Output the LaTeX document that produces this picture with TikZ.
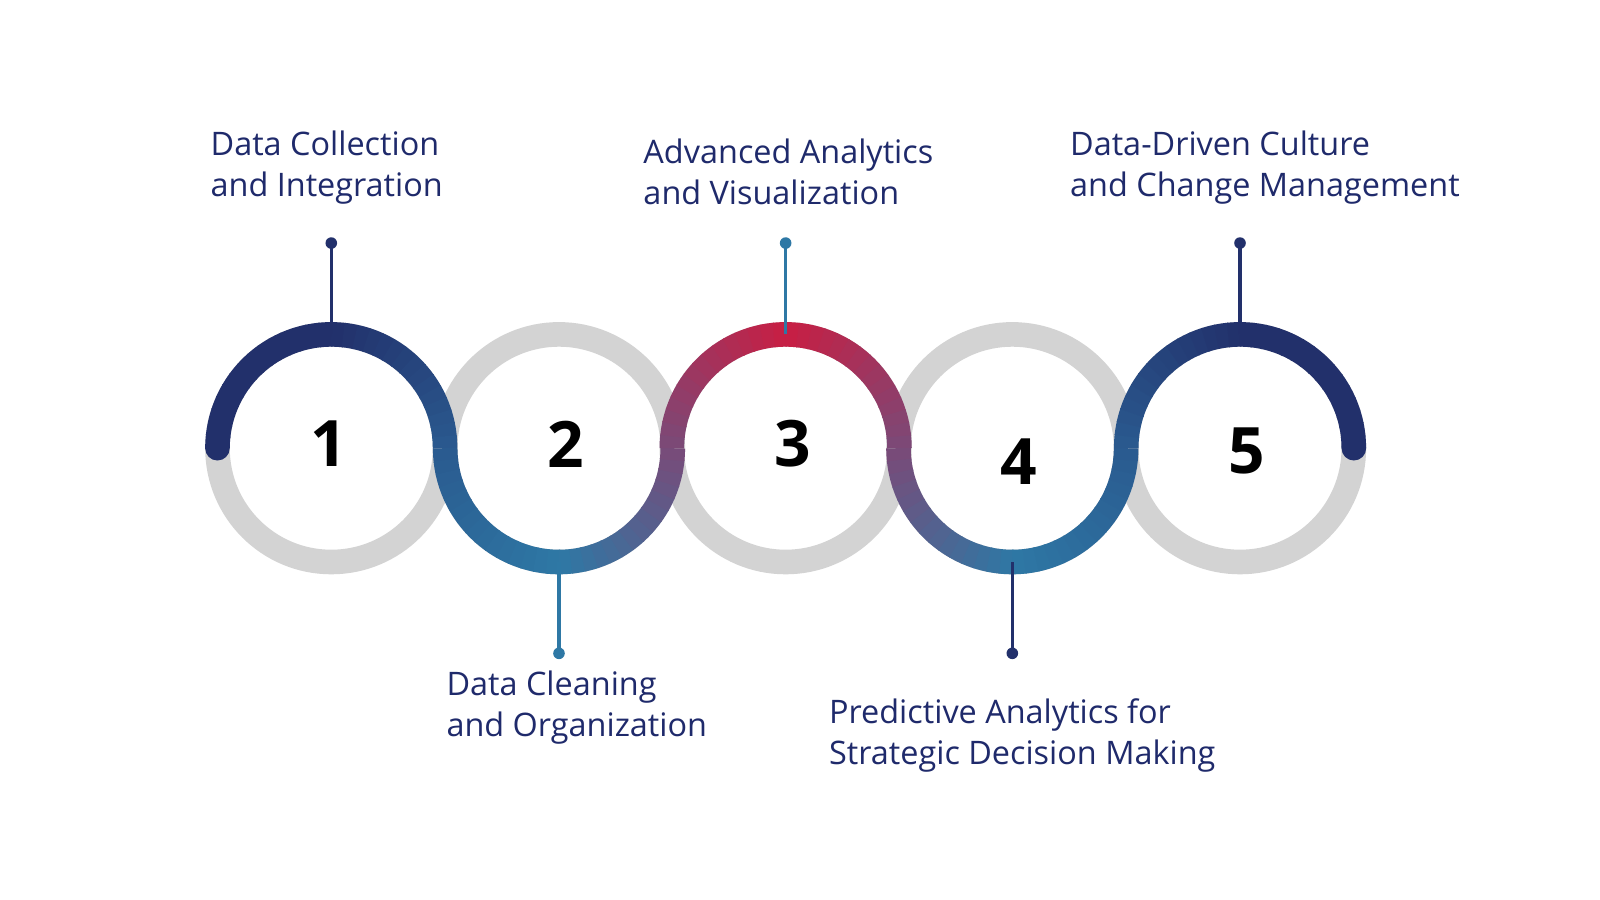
\documentclass[tikz,border=0pt]{standalone}
\usepackage{fontspec}
\setmainfont{Open Sans}
\usetikzlibrary{calc}
\definecolor{navy}{HTML}{22306B}
\definecolor{mblue}{HTML}{2A5A8F}
\definecolor{lblue}{HTML}{2E78A5}
\definecolor{purp}{HTML}{7A4A78}
\definecolor{crim}{HTML}{C81E43}
\definecolor{ringgray}{HTML}{D3D3D3}
\definecolor{txt}{HTML}{1F2A6B}
\tikzset{
  ring/.style={draw=ringgray,line width=12.3pt},
  lbl/.style={anchor=north west,align=left,text=txt,font=\fontsize{16.2}{20.5}\selectfont,inner sep=0pt},
  num/.style={font=\fontsize{32}{32}\selectfont\bfseries,text=black},
  stem/.style={line width=1.55pt},
}
\newcommand\gradarc[6]{% center, start angle, dir, c1,c2,c3
  \foreach \i in {0,...,29}{
    \pgfmathsetmacro\aS{#2+#3*\i*6}
    \pgfmathsetmacro\aE{#2+#3*min(180,(\i+1)*6+0.6)}
    \ifnum\i<15
      \pgfmathtruncatemacro\p{(\i+0.5)/15*100}
      \colorlet{segc}{#5!\p!#4}
    \else
      \pgfmathtruncatemacro\p{(\i-14.5)/15*100}
      \colorlet{segc}{#6!\p!#5}
    \fi
    \draw[line width=12.3pt,segc] ($(#1)+(\aS:56.9pt)$) arc[start angle=\aS,end angle=\aE,radius=56.9pt];
  }}
\begin{document}
\begin{tikzpicture}[x=0.5128pt,y=-0.5128pt]
\useasboundingbox[fill=white] (0,0) rectangle (1560,877.5);
\foreach \n/\x in {1/323,2/545,3/766,4/987,5/1209}{
  \coordinate (c\n) at (\x,437);
  \draw[ring] (c\n) circle[radius=56.9pt];
}
\gradarc{c1}{180}{-1}{navy}{navy}{mblue}
\gradarc{c2}{180}{1}{mblue}{lblue}{purp}
\gradarc{c3}{180}{-1}{purp}{crim}{purp}
\gradarc{c4}{180}{1}{purp}{lblue}{mblue}
\gradarc{c5}{180}{-1}{mblue}{navy}{navy}
\fill[navy] (212,437) circle[radius=6.15pt];
\fill[navy] (1320,437) circle[radius=6.15pt];
% stems
\coordinate (t1) at (323,326); \coordinate (d1) at (323,237);
\coordinate (t2) at (545,548); \coordinate (d2) at (545,637);
\coordinate (t3) at (766,326); \coordinate (d3) at (766,237);
\coordinate (t4) at (987,548); \coordinate (d4) at (987,637);
\coordinate (t5) at (1209,326); \coordinate (d5) at (1209,237);
\foreach \n/\c in {1/navy,2/lblue,3/lblue,4/navy,5/navy}{
  \draw[stem,\c] (t\n) -- (d\n);
  \fill[\c] (d\n) circle[radius=2.9pt];
}
% numbers
\node[num] (n1) at (321,433) {1};
\node[num] (n2) at (552,433) {2};
\node[num] (n3) at (773,433) {3};
\node[num] (n4) at (993,450) {4};
\node[num] (n5) at (1216,440) {5};
% labels
\node[lbl] (l1) at (205,127) {Data Collection\\and Integration};
\node[lbl] (l3) at (627,135) {Advanced Analytics\\and Visualization};
\node[lbl] (l5) at (1043,127) {Data-Driven Culture\\and Change Management};
\node[lbl] (l2) at (435,654) {Data Cleaning\\and Organization};
\node[lbl] (l4) at (808,681) {Predictive Analytics for\\Strategic Decision Making};
\end{tikzpicture}
\end{document}
